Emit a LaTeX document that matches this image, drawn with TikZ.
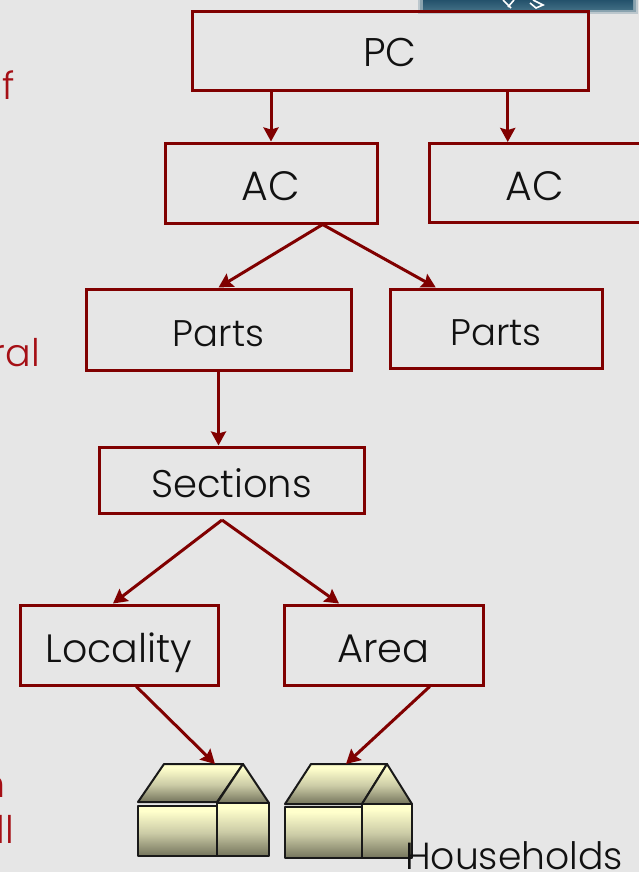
\documentclass[tikz,border=0pt]{standalone}
\usepackage{fontspec}
\setmainfont{Poppins}[UprightFont=* Light]
\usetikzlibrary{arrows.meta,calc}
\definecolor{pagebg}{HTML}{E6E6E6}
\definecolor{boxred}{HTML}{800000}
\definecolor{sidered}{HTML}{A50F15}
\definecolor{inktext}{HTML}{111111}
\definecolor{houseTop}{HTML}{FFFFCC}
\definecolor{houseMid}{HTML}{CBCBA6}
\definecolor{houseBot}{HTML}{74745C}
\definecolor{tealA}{HTML}{24526C}
\definecolor{tealB}{HTML}{3F6C82}
\pgfdeclareverticalshading{housegrad}{100bp}{color(0bp)=(houseBot); color(25bp)=(houseBot); color(48bp)=(houseMid); color(70bp)=(houseTop); color(100bp)=(houseTop)}
\tikzset{
  x=1pt,y=-1pt,
  boxnode/.style={draw=boxred,line width=3pt,text=inktext,inner sep=0pt,anchor=center,text height=34pt,text depth=0pt},
  conn/.style={draw=boxred,line width=3pt,-{Stealth[length=14pt,width=15pt,inset=2pt]}},
  housepart/.style={draw=black!90,line width=2pt,line join=round,shade,shading=housegrad},
  sidetext/.style={text=sidered,inner sep=0pt,font=\fontsize{38}{42}\selectfont,anchor=base east},
}
% name, x, y, width, height, font size, text height, text
\newcommand{\boxat}[8]{\node[boxnode,minimum width=#4 pt,minimum height=#5 pt,font=\fontsize{#6}{40}\selectfont,text height=#7pt] (#1) at (#2,#3) {#8};}
\begin{document}
\begin{tikzpicture}
\useasboundingbox (0,0) rectangle (639,872);
\fill[pagebg] (0,0) rectangle (639,872);
% top banner
\fill[tealB!25!pagebg] (418,0) rectangle (638,14);
\fill[tealB!55!pagebg] (420,0) rectangle (636,12);
\shade[top color=tealA,bottom color=tealB] (423,0) rectangle (633,9.5);
\draw[white,line width=1.6pt] (503,0) -- (511,8) (514,0) -- (508,7) (533,0) -- (543,5) -- (536,8) -- (530,3);
% side text, cut by the page edge
\node[sidetext] (sf) at (15,100) {f};
\node[sidetext] (sral) at (40,366) {ral};
\node[sidetext] (sn) at (6,797) {n};
\node[sidetext] (sll) at (14,843) {ll};
% boxes
\boxat{pc}{390}{51.5}{396}{79}{40}{31}{PC}
\boxat{ac1}{271}{183}{212}{80}{41}{34}{AC}
\boxat{ac2}{534.5}{183}{211}{79}{41}{34}{AC}
\boxat{parts1}{218.5}{329.5}{265}{81}{37}{33}{Parts}
\boxat{parts2}{496}{328.5}{212}{79}{37}{33}{Parts}
\boxat{sections}{231.5}{480}{265}{66}{38.5}{34}{Sections}
\boxat{locality}{119}{645}{198}{80}{39.5}{34}{Locality}
\boxat{area}{383.5}{645}{199}{80}{40}{34}{Area}
% house 1
\path[housepart] (164,764) -- (243,764) -- (217,802) -- (138,802) -- cycle;
\path[housepart] (243,764) -- (269,803) -- (217,803) -- cycle;
\path[housepart] (138,806) rectangle (217,856);
\path[housepart] (217,803) rectangle (269,856);
\coordinate (roofa) at (215,764);
% house 2
\path[housepart] (311,764) -- (387,764) -- (362,804) -- (285,804) -- cycle;
\path[housepart] (387,764) -- (412,804) -- (362,804) -- cycle;
\path[housepart] (285,807) rectangle (362,858);
\path[housepart] (362,804) rectangle (412,858);
\coordinate (roofb) at (346,764);
\node[text=inktext,inner sep=0pt,anchor=base west,font=\fontsize{37.7}{40}\selectfont] (hh) at (405,869) {Households};
% connectors
\coordinate (secfork) at (222,520);
\coordinate (acbtip) at ($(ac2.north west)!0.375!(ac2.north east)$);
\coordinate (acbtail) at (acbtip |- pc.south);
\coordinate (acfork) at ($(ac1.south west)!0.74!(ac1.south east)$);
\draw[conn] (pc.south -| ac1.north) -- (ac1.north);
\draw[conn] (acbtail) -- (acbtip);
\draw[conn] (acfork) -- (parts1.north);
\draw[conn] (acfork) -- ($(parts2.north west)!0.22!(parts2.north east)$);
\draw[conn] (parts1.south) -- (parts1.south |- sections.north);
\draw[conn] (secfork) -- ($(locality.north west)!0.47!(locality.north east)$);
\draw[conn] (secfork) -- ($(area.north west)!0.28!(area.north east)$);
\draw[conn] ($(locality.south west)!0.586!(locality.south east)$) -- (roofa);
\draw[conn] ($(area.south west)!0.729!(area.south east)$) -- (roofb);
\end{tikzpicture}
\end{document}
